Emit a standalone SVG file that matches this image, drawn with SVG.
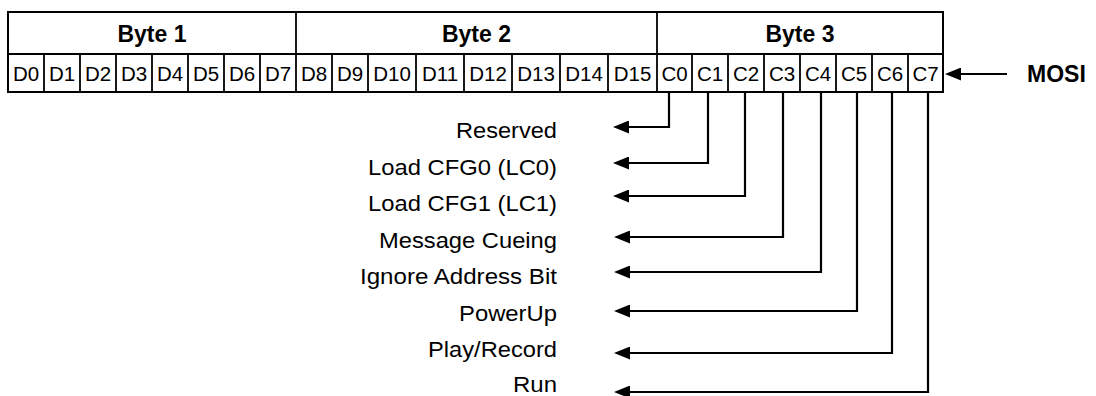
<svg xmlns="http://www.w3.org/2000/svg" width="1096" height="396" viewBox="0 0 1096 396">
<style>
.bg{fill:#ffffff}
.outer{fill:none;stroke:#000;stroke-width:2}
.div{stroke:#000;stroke-width:1.8}
.hdr{font-family:"Liberation Sans",Arial,sans-serif;font-size:23px;font-weight:bold;fill:#000;text-anchor:middle}
.bit{font-family:"Liberation Sans",Arial,sans-serif;font-size:20.5px;fill:#000;text-anchor:middle}
.lbl{font-family:"Liberation Sans",Arial,sans-serif;font-size:22px;fill:#000;text-anchor:end}
.mosi{font-family:"Liberation Sans",Arial,sans-serif;font-size:23px;font-weight:bold;fill:#000}
.con{fill:none;stroke:#000;stroke-width:2.2;marker-end:url(#ah)}
</style>
<defs>
<marker id="ah" viewBox="0 0 16 13" refX="13" refY="6.5" markerWidth="16" markerHeight="13" markerUnits="userSpaceOnUse" orient="auto">
<path d="M0,0 L16,6.5 L0,13 Z" fill="#000"/>
</marker>
</defs>
<rect class="bg" x="0" y="0" width="1096" height="396"/>
<g id="register">
<rect class="outer" x="8" y="12" width="935" height="80"/>
<line class="div" x1="8" y1="54" x2="943" y2="54"/>
<line class="div" x1="296" y1="12" x2="296" y2="92"/>
<line class="div" x1="657" y1="12" x2="657" y2="92"/>
<g id="cells">
<line class="div" x1="44" y1="54" x2="44" y2="92"/>
<line class="div" x1="80" y1="54" x2="80" y2="92"/>
<line class="div" x1="116" y1="54" x2="116" y2="92"/>
<line class="div" x1="152" y1="54" x2="152" y2="92"/>
<line class="div" x1="188" y1="54" x2="188" y2="92"/>
<line class="div" x1="224" y1="54" x2="224" y2="92"/>
<line class="div" x1="260" y1="54" x2="260" y2="92"/>
<line class="div" x1="332" y1="54" x2="332" y2="92"/>
<line class="div" x1="368" y1="54" x2="368" y2="92"/>
<line class="div" x1="416" y1="54" x2="416" y2="92"/>
<line class="div" x1="464" y1="54" x2="464" y2="92"/>
<line class="div" x1="512" y1="54" x2="512" y2="92"/>
<line class="div" x1="560" y1="54" x2="560" y2="92"/>
<line class="div" x1="608" y1="54" x2="608" y2="92"/>
<line class="div" x1="692" y1="54" x2="692" y2="92"/>
<line class="div" x1="728" y1="54" x2="728" y2="92"/>
<line class="div" x1="764" y1="54" x2="764" y2="92"/>
<line class="div" x1="800" y1="54" x2="800" y2="92"/>
<line class="div" x1="836" y1="54" x2="836" y2="92"/>
<line class="div" x1="872" y1="54" x2="872" y2="92"/>
<line class="div" x1="908" y1="54" x2="908" y2="92"/>
</g>
<text class="hdr" x="152" y="41.5">Byte 1</text>
<text class="hdr" x="476.5" y="41.5">Byte 2</text>
<text class="hdr" x="800" y="41.5">Byte 3</text>
<text class="bit" x="26" y="81">D0</text>
<text class="bit" x="62" y="81">D1</text>
<text class="bit" x="98" y="81">D2</text>
<text class="bit" x="134" y="81">D3</text>
<text class="bit" x="170" y="81">D4</text>
<text class="bit" x="206" y="81">D5</text>
<text class="bit" x="242" y="81">D6</text>
<text class="bit" x="278" y="81">D7</text>
<text class="bit" x="314" y="81">D8</text>
<text class="bit" x="350" y="81">D9</text>
<text class="bit" x="392" y="81">D10</text>
<text class="bit" x="440" y="81">D11</text>
<text class="bit" x="488" y="81">D12</text>
<text class="bit" x="536" y="81">D13</text>
<text class="bit" x="584" y="81">D14</text>
<text class="bit" x="632.5" y="81">D15</text>
<text class="bit" x="674.5" y="81">C0</text>
<text class="bit" x="710" y="81">C1</text>
<text class="bit" x="746" y="81">C2</text>
<text class="bit" x="782" y="81">C3</text>
<text class="bit" x="818" y="81">C4</text>
<text class="bit" x="854" y="81">C5</text>
<text class="bit" x="890" y="81">C6</text>
<text class="bit" x="925.5" y="81">C7</text>
</g>
<g id="mosi">
<text class="mosi" x="1027" y="82">MOSI</text>
</g>
<g id="lbl-reserved"><text class="lbl" x="557" y="138" textLength="101" lengthAdjust="spacingAndGlyphs">Reserved</text></g>
<g id="lbl-lc0"><text class="lbl" x="557" y="174.5" textLength="189" lengthAdjust="spacingAndGlyphs">Load CFG0 (LC0)</text></g>
<g id="lbl-lc1"><text class="lbl" x="557" y="211" textLength="189" lengthAdjust="spacingAndGlyphs">Load CFG1 (LC1)</text></g>
<g id="lbl-mc"><text class="lbl" x="557" y="247.5" textLength="178" lengthAdjust="spacingAndGlyphs">Message Cueing</text></g>
<g id="lbl-iab"><text class="lbl" x="557" y="284" textLength="197" lengthAdjust="spacingAndGlyphs">Ignore Address Bit</text></g>
<g id="lbl-pu"><text class="lbl" x="557" y="320.5" textLength="98" lengthAdjust="spacingAndGlyphs">PowerUp</text></g>
<g id="lbl-pr"><text class="lbl" x="557" y="357" textLength="129" lengthAdjust="spacingAndGlyphs">Play/Record</text></g>
<g id="lbl-run"><text class="lbl" x="557" y="391.5" textLength="44" lengthAdjust="spacingAndGlyphs">Run</text></g>
<g id="connectors">
<path class="con" d="M1007,74 H948"/>
<path class="con" d="M669,92 V127 H616"/>
<path class="con" d="M708,92 V163 H616"/>
<path class="con" d="M745,92 V196 H616"/>
<path class="con" d="M783,92 V237 H617"/>
<path class="con" d="M821,92 V272 H617"/>
<path class="con" d="M857,92 V311 H617"/>
<path class="con" d="M892,92 V353 H617"/>
<path class="con" d="M928,92 V392 H617"/>
</g>
</svg>
